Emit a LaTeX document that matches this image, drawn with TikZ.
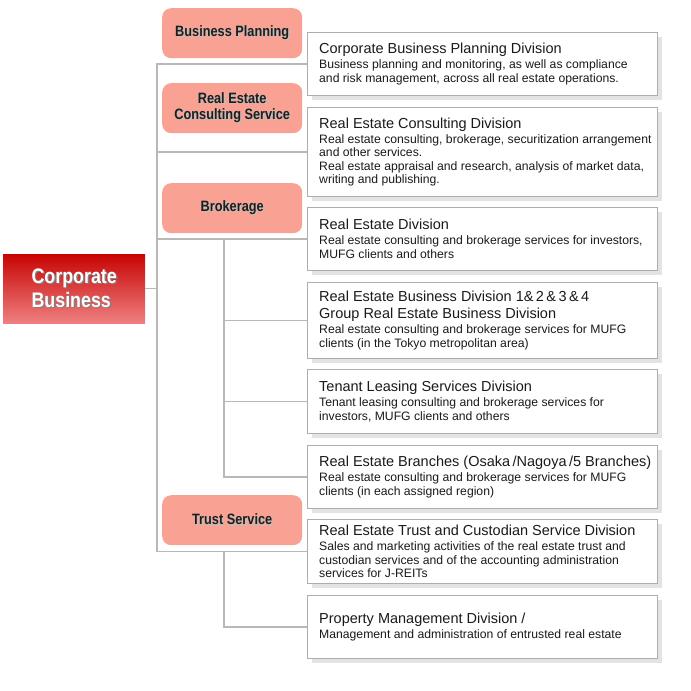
\documentclass[tikz,border=0pt]{standalone}
\usepackage{fontspec}
\setmainfont{Liberation Sans}
\newfontfamily\condfont[FakeStretch=0.85]{Liberation Sans}
\usetikzlibrary{positioning,shadows}

\definecolor{linegray}{HTML}{B8B8B8}
\definecolor{boxborder}{HTML}{ADADAD}
\definecolor{boxshadow}{HTML}{E3E3E3}
\definecolor{unitpink}{HTML}{F9A193}
\definecolor{unittext}{HTML}{1E1E1E}
\definecolor{divtext}{HTML}{1A1A1A}
\definecolor{coretop}{HTML}{C80404}
\definecolor{coremid}{HTML}{E21C1C}
\definecolor{corebot}{HTML}{EF8080}

% text with a soft drop shadow
\newcommand{\shadowed}[2]{\makebox[0pt][l]{\hspace{1.4pt}\raisebox{-1.4pt}{\textcolor{#1}{#2}}}#2}
\newcommand{\divtitle}[1]{{\fontsize{14.5}{15}\selectfont #1}}

\begin{document}
\begin{tikzpicture}[x=1pt,y=-1pt,
    conn/.style={linegray, line width=1.2pt},
    unitbox/.style={shape=rectangle, rounded corners=9pt, fill=unitpink,
      minimum width=140pt, minimum height=50pt, anchor=north west, inner sep=0pt,
      font=\condfont\bfseries\fontsize{15}{16}\selectfont, text=unittext, align=center},
    divbox/.style={shape=rectangle, draw=boxborder, line width=1pt, fill=white,
      minimum width=350pt, anchor=north west,
      drop shadow={shadow xshift=4pt, shadow yshift=-4pt, fill=boxshadow, opacity=1}},
    divtext/.style={anchor=west, inner sep=0pt, align=left, text=divtext,
      font=\fontsize{12.2}{13.6}\selectfont}
  ]
  \useasboundingbox (0,0) rectangle (691,691);

  \coordinate (spine)    at (157,0);
  \coordinate (subspine) at (224,0);

  % root
  \node[shape=rectangle, minimum width=142pt, minimum height=69pt, anchor=north west,
        top color=coretop, middle color=coremid, bottom color=corebot, text=white,
        font=\condfont\bfseries\fontsize{21}{24}\selectfont, align=left] (core) at (3,254)
        {\shadowed{black!50}{Corporate}\\\shadowed{black!50}{Business}};

  % units
  \node[unitbox] (planning)   at (162,8)   {\shadowed{black!25}{Business Planning}};
  \node[unitbox] (consulting) at (162,83)  {\shadowed{black!25}{Real Estate}\\\shadowed{black!25}{Consulting Service}};
  \node[unitbox] (brokerage)  at (162,183) {\shadowed{black!25}{Brokerage}};
  \node[unitbox] (trust)      at (162,495) {\shadowed{black!25}{Trust Service}};

  % divisions
  \node[divbox, minimum height=63pt] (d1) at (307,32)  {};
  \node[divbox, minimum height=89pt] (d2) at (307,107) {};
  \node[divbox, minimum height=63pt] (d3) at (307,207) {};
  \node[divbox, minimum height=76pt] (d4) at (307,282) {};
  \node[divbox, minimum height=64pt] (d5) at (307,369) {};
  \node[divbox, minimum height=63pt] (d6) at (307,445) {};
  \node[divbox, minimum height=64pt] (d7) at (307,519) {};
  \node[divbox, minimum height=63pt] (d8) at (307,595) {};

  \node[divtext, right=12pt of d1.west] (t1) {\divtitle{Corporate Business Planning Division}\\[1.5pt]
    Business planning and monitoring, as well as compliance\\
    and risk management, across all real estate operations.};
  \node[divtext, right=12pt of d2.west] (t2) {\divtitle{Real Estate Consulting Division}\\[1.5pt]
    Real estate consulting, brokerage, securitization arrangement\\
    and other services.\\
    Real estate appraisal and research, analysis of market data,\\
    writing and publishing.};
  \node[divtext, right=12pt of d3.west] (t3) {\divtitle{Real Estate Division}\\[1.5pt]
    Real estate consulting and brokerage services for investors,\\
    MUFG clients and others};
  \node[divtext, right=12pt of d4.west] (t4) {\divtitle{Real Estate Business Division 1\&\,2\,\&\,3\,\&\,4}\\[3pt]
    \divtitle{Group Real Estate Business Division}\\[1.5pt]
    Real estate consulting and brokerage services for MUFG\\
    clients (in the Tokyo metropolitan area)};
  \node[divtext, right=12pt of d5.west] (t5) {\divtitle{Tenant Leasing Services Division}\\[1.5pt]
    Tenant leasing consulting and brokerage services for\\
    investors, MUFG clients and others};
  \node[divtext, right=12pt of d6.west] (t6) {\divtitle{Real Estate Branches (Osaka\,/Nagoya\,/5 Branches)}\\[1.5pt]
    Real estate consulting and brokerage services for MUFG\\
    clients (in each assigned region)};
  \node[divtext, right=12pt of d7.west] (t7) {\divtitle{Real Estate Trust and Custodian Service Division}\\[1.5pt]
    Sales and marketing activities of the real estate trust and\\
    custodian services and of the accounting administration\\
    services for J-REITs};
  \node[divtext, right=12pt of d8.west] (t8) {\divtitle{Property Management Division /}\\[1.5pt]
    Management and administration of entrusted real estate};

  % connectors
  \draw[conn] (core.east) -- (core.east -| spine);
  \draw[conn] (d1.west) -- (d1.west -| spine) |- (d7.west);
  \draw[conn] (d2.west) -- (d2.west -| spine);
  \draw[conn] (d3.west) -- (d3.west -| spine);
  \draw[conn] (d3.west -| subspine) |- (d6.west);
  \draw[conn] (d4.west -| subspine) -- (d4.west);
  \draw[conn] (d5.west -| subspine) -- (d5.west);
  \draw[conn] (d7.west -| subspine) |- (d8.west);
\end{tikzpicture}
\end{document}
